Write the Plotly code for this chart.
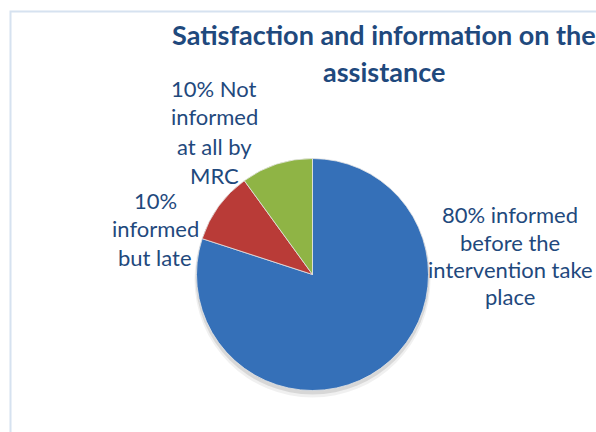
import plotly.graph_objects as go

W, H = 596, 432

# ---- data ----
categories = ["informed before the intervention take place",
              "informed but late",
              "Not informed at all by MRC"]
values = [80, 10, 10]
colors = ["#3570B8", "#B93B37", "#8FB445"]

title_lines = ["Satisfaction and information on the", "assistance"]
label_lines = [
    ["80% informed", "before the", "intervention take", "place"],
    ["10%", "informed", "but late"],
    ["10% Not", "informed", "at all by", "MRC"],
]

# ---- layout helpers (pixel -> paper) ----
def px(x):
    return x / W

def py(y):
    return 1 - y / H

cx, cy, r = 312.5, 274.5, 116

fig = go.Figure()

# soft shadow under the pie
for dy, alpha, dr in [(5, 0.06, 2), (3, 0.10, 1)]:
    fig.add_trace(go.Pie(
        values=[sum(values)], labels=["shadow"], sort=False,
        marker=dict(colors=[f"rgba(0,0,0,{alpha})"], line=dict(width=0)),
        textinfo="none", hoverinfo="skip", showlegend=False,
        domain=dict(x=[px(cx - r - dr), px(cx + r + dr)],
                    y=[py(cy + dy + r + dr), py(cy + dy - r - dr)]),
    ))

fig.add_trace(go.Pie(
    labels=categories, values=values, sort=False, direction="clockwise",
    rotation=0,
    marker=dict(colors=colors, line=dict(color="#E6E6E6", width=0.8)),
    textinfo="none", showlegend=False,
    domain=dict(x=[px(cx - r), px(cx + r)], y=[py(cy + r), py(cy - r)]),
))

text_color = "#1F497D"
annotations = []
# title
for i, (line, y) in enumerate(zip(title_lines, [35, 72])):
    annotations.append(dict(
        text=f"<b>{line}</b>", x=px(384), y=py(y), xref="paper", yref="paper",
        xanchor="center", yanchor="middle", showarrow=False,
        font=dict(family="Lato", size=27, color=text_color)))

label_pos = [
    (510, [215, 242, 269, 296]),
    (155, [200, 228, 257]),
    (214, [88, 117, 146, 175]),
]
for lines, (lx, ys) in zip(label_lines, label_pos):
    for line, y in zip(lines, ys):
        annotations.append(dict(
            text=line, x=px(lx), y=py(y), xref="paper", yref="paper",
            xanchor="center", yanchor="middle", showarrow=False,
            font=dict(family="Lato", size=22, color=text_color)))

fig.update_layout(
    width=W, height=H, margin=dict(l=0, r=0, t=0, b=0),
    paper_bgcolor="white", plot_bgcolor="white",
    annotations=annotations,
    shapes=[dict(type="rect", xref="paper", yref="paper",
                 x0=px(10.5), x1=1.1, y0=-0.1, y1=py(11.5),
                 line=dict(color="#D6E2F0", width=2), layer="below")],
)

fig.write_html("out.html")
